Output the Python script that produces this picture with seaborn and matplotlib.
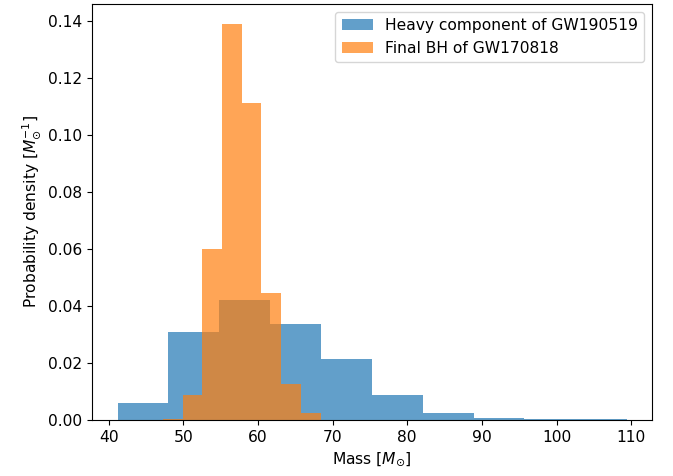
import numpy as np
import matplotlib
matplotlib.use("Agg")
import matplotlib.pyplot as plt
import seaborn as sns

# Heavy component of GW190519 (density per bin)
heavy_edges = [41.2, 48.0, 54.8, 61.6, 68.5, 75.3, 82.1, 88.9, 95.7, 102.5, 109.4]
heavy_density = [0.0059, 0.0309, 0.0422, 0.0336, 0.0213, 0.0086, 0.0023, 0.0008, 0.00035, 0.00012]

# Final BH of GW170818 (density per bin)
final_edges = [47.3, 49.9, 52.55, 55.2, 57.8, 60.45, 63.1, 65.75, 68.4]
final_density = [0.0004, 0.0088, 0.0601, 0.1392, 0.1112, 0.0447, 0.0126, 0.0023]


def centers(edges):
    e = np.asarray(edges)
    return (e[:-1] + e[1:]) / 2


plt.rcParams["font.size"] = 11.2

fig = plt.figure(figsize=(6.73, 4.76), dpi=100)
ax = fig.add_axes([0.137, 0.118, 0.832, 0.874])

sns.histplot(x=centers(heavy_edges), weights=heavy_density, bins=heavy_edges,
             stat="count", color="tab:blue", alpha=0.7, linewidth=0,
             label="Heavy component of GW190519", ax=ax)
sns.histplot(x=centers(final_edges), weights=final_density, bins=final_edges,
             stat="count", color="tab:orange", alpha=0.7, linewidth=0,
             label="Final BH of GW170818", ax=ax)

ax.set_xlabel(r"Mass [$M_{\odot}$]")
ax.set_ylabel(r"Probability density [$M_{\odot}^{-1}$]")
ax.margins(x=0.05)
ax.legend(loc="upper right")

fig.savefig("out.png", dpi=100)
